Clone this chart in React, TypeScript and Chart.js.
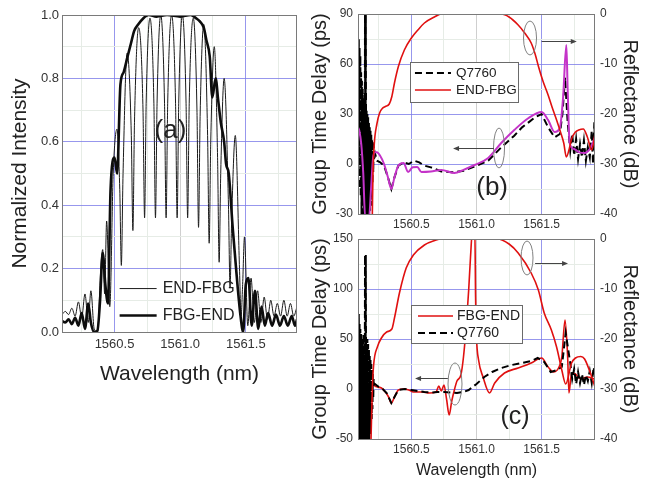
import React, { useEffect, useRef } from "react";
import { Chart, registerables } from "chart.js";

Chart.register(...registerables);

const FONT = "Arial, 'Liberation Sans', Helvetica, sans-serif";
const TICK_COLOR = "#333333";
const FRAME = "#7a7a7a";
const BLUE_GRID = "rgba(125,125,232,0.8)";
const GRAY_GRID = "#cfcfcf";
const MINOR_GRID = "#e6ece6";

// ---------- tick values ----------
const X_TICKS = [1560.25, 1560.5, 1560.75, 1561.0, 1561.25, 1561.5, 1561.75];
const X_BLUE = [1560.5, 1561.5];
const A_Y_TICKS = [0, 0.1, 0.2, 0.3, 0.4, 0.5, 0.6, 0.7, 0.8, 0.9, 1.0];
const B_Y_TICKS = [-30, -15, 0, 15, 30, 45, 60, 75, 90];
const C_Y_TICKS = [-50, -25, 0, 25, 50, 75, 100, 125, 150];
const R_TICKS = [-40, -35, -30, -25, -20, -15, -10, -5, 0];

// ---------- panel (a): normalized intensity ----------
const A_END_FBG_X = [1560.10, 1560.125, 1560.15, 1560.175, 1560.20, 1560.225, 1560.25, 1560.275, 1560.30, 1560.32,
  1560.345, 1560.37, 1560.395, 1560.41, 1560.425, 1560.44, 1560.464, 1560.49, 1560.519, 1560.54,
  1560.552, 1560.565, 1560.596, 1560.628, 1560.64, 1560.652, 1560.684, 1560.717, 1560.729, 1560.741,
  1560.77, 1560.80, 1560.812, 1560.824, 1560.852, 1560.881, 1560.893, 1560.905, 1560.935, 1560.965,
  1560.977, 1560.989, 1561.017, 1561.045, 1561.057, 1561.069, 1561.10, 1561.128, 1561.14, 1561.152,
  1561.18, 1561.209, 1561.221, 1561.233, 1561.26, 1561.285, 1561.297, 1561.309, 1561.335, 1561.368,
  1561.38, 1561.392, 1561.42, 1561.452, 1561.464, 1561.476, 1561.49, 1561.515, 1561.54, 1561.565,
  1561.59, 1561.615, 1561.64, 1561.665, 1561.69, 1561.715, 1561.74, 1561.765, 1561.79, 1561.815,
  1561.84, 1561.865, 1561.89];
const A_END_FBG_Y = [0.055, 0.065, 0.055, 0.075, 0.05, 0.095, 0.045, 0.12, 0.03, 0.13,
  0.01, 0.0, 0.2, 0.26, 0.12, 0.35, 0.08, 0.5, 0.64, 0.45,
  0.21, 0.5, 0.88, 0.62, 0.32, 0.66, 0.96, 0.7, 0.36, 0.72,
  0.99, 0.72, 0.36, 0.72, 1.0, 0.72, 0.36, 0.72, 1.0, 0.72,
  0.36, 0.72, 1.0, 0.72, 0.36, 0.72, 0.99, 0.7, 0.33, 0.68,
  0.97, 0.62, 0.28, 0.6, 0.9, 0.55, 0.22, 0.5, 0.8, 0.4,
  0.14, 0.35, 0.62, 0.2, 0.05, 0.15, 0.3, 0.02, 0.17, 0.03,
  0.13, 0.03, 0.11, 0.04, 0.1, 0.05, 0.09, 0.05, 0.1, 0.05,
  0.09, 0.05, 0.08];

const A_FBG_END_X = [1560.10, 1560.125, 1560.15, 1560.175, 1560.20, 1560.225, 1560.25, 1560.275, 1560.30, 1560.32,
  1560.345, 1560.37, 1560.39, 1560.41, 1560.43, 1560.45, 1560.47, 1560.50, 1560.52, 1560.545,
  1560.57, 1560.60, 1560.625, 1560.65, 1560.68, 1560.72, 1560.76, 1560.82, 1560.90, 1561.00,
  1561.08, 1561.12, 1561.15, 1561.18, 1561.20, 1561.225, 1561.245, 1561.27, 1561.29, 1561.31,
  1561.335, 1561.35, 1561.37, 1561.40, 1561.43, 1561.46, 1561.48, 1561.50, 1561.52, 1561.545,
  1561.57, 1561.595, 1561.62, 1561.645, 1561.67, 1561.70, 1561.73, 1561.76, 1561.79, 1561.82,
  1561.85, 1561.875, 1561.89];
const A_FBG_END_Y = [0.035, 0.03, 0.04, 0.025, 0.045, 0.02, 0.06, 0.01, 0.09, 0.03,
  0.0, 0.005, 0.1, 0.25, 0.15, 0.09, 0.45, 0.55, 0.5, 0.78,
  0.82, 0.87, 0.91, 0.95, 0.97, 0.99, 1.0, 0.995, 1.0, 0.995,
  1.0, 0.99, 0.98, 0.96, 0.92, 0.87, 0.74, 0.80, 0.73, 0.66,
  0.6, 0.53, 0.5, 0.33, 0.18, 0.05, 0.0, 0.15, 0.17, 0.02,
  0.13, 0.01, 0.08, 0.02, 0.06, 0.02, 0.055, 0.02, 0.05, 0.02,
  0.05, 0.02, 0.04];

// ---------- panel (b): END-FBG ----------
const B_REFL_X = [1560.20, 1560.205, 1560.215, 1560.235, 1560.256, 1560.28, 1560.30, 1560.33, 1560.35, 1560.37,
  1560.40, 1560.446, 1560.50, 1560.55, 1560.60, 1560.677, 1560.73, 1561.19, 1561.25, 1561.32,
  1561.37, 1561.42, 1561.45, 1561.477, 1561.51, 1561.55, 1561.58, 1561.615, 1561.645, 1561.67,
  1561.69, 1561.71, 1561.73, 1561.76, 1561.785, 1561.82, 1561.85, 1561.885, 1561.91];
const B_REFL_Y = [-40, -32, -26, -22, -19.8, -18.8, -18.5, -18.0, -16.5, -13.8,
  -10.5, -7.2, -4.8, -3.2, -1.8, -0.6, 0, 0, -0.6, -2.2,
  -3.8, -5.8, -8, -10.6, -13.4, -16.2, -18.6, -21.2, -23.6, -25.8,
  -28.6, -27.2, -25, -23.6, -23.2, -23, -24.5, -27.2, -24];

const B_GD_X = [1560.09, 1560.10, 1560.115, 1560.13, 1560.145, 1560.175, 1560.19, 1560.205, 1560.217, 1560.235,
  1560.26, 1560.29, 1560.32, 1560.346, 1560.37, 1560.40, 1560.44, 1560.475, 1560.51, 1560.545,
  1560.577, 1560.65, 1560.73, 1560.83, 1560.90, 1560.985, 1561.09, 1561.19, 1561.29, 1561.40,
  1561.50, 1561.55, 1561.60, 1561.64, 1561.665, 1561.69, 1561.70, 1561.715, 1561.75, 1561.79,
  1561.83, 1561.87, 1561.91];
const B_GD_Y = [22, 20, 12, -5, -32, -32, -15, 3, 7, 7,
  5, 0, -8, -15, -8, -1, 0.6, -4.8, -2, -1.8,
  -4.8, -4.5, -3.6, -5.4, -3.5, -0.6, 3.6, 12.6, 20.4, 27.6,
  31.2, 26.4, 19.2, 21.6, 40, 71.4, 45, 12.6, 9, 7,
  6.6, 9, 16];

const B_Q_X = [1560.090, 1560.093, 1560.096, 1560.099, 1560.102, 1560.105, 1560.108, 1560.111, 1560.114, 1560.117,
  1560.120, 1560.123, 1560.126, 1560.129, 1560.132, 1560.135, 1560.138, 1560.141, 1560.144, 1560.147,
  1560.150, 1560.153, 1560.156, 1560.159, 1560.162, 1560.165, 1560.168, 1560.171, 1560.174, 1560.177,
  1560.180, 1560.183, 1560.186, 1560.189, 1560.192, 1560.195, 1560.198, 1560.201, 1560.204, 1560.207,
  1560.210, 1560.213, 1560.222, 1560.235, 1560.26, 1560.29, 1560.32, 1560.346, 1560.37, 1560.40,
  1560.44, 1560.48, 1560.52, 1560.56, 1560.60, 1560.65, 1560.73, 1560.83, 1560.90, 1560.985,
  1561.09, 1561.19, 1561.29, 1561.35, 1561.40, 1561.45, 1561.50, 1561.55, 1561.60, 1561.64,
  1561.66, 1561.68, 1561.70, 1561.72, 1561.735, 1561.75, 1561.765, 1561.78, 1561.795, 1561.81,
  1561.825, 1561.84, 1561.855, 1561.87, 1561.885, 1561.895, 1561.905, 1561.91];
const B_Q_Y = [60, -5, 75, 0, 70, -15, 65, -20, 55, -30,
  50, -25, 45, -32, 40, -32, 35, -30, 95, -32,
  95, -32, 32, -32, 30, -32, 28, -30, 25, -32,
  22, -28, 20, -25, 18, -20, 15, -12, 14, -5,
  12, 2, 6, 2, 1, -1, -8, -15, -8, -1,
  1, 0, 2, 1, -1, -2, -4.5, -5, -4, -1.5,
  2, 10, 17, 22, 25, 28, 30, 22, 16, 18,
  30, 52, 25, 8, 18, 5, 15, 3, 12, 4,
  14, 2, 10, 4, 20, 0, 25, 10];

// ---------- panel (c): FBG-END ----------
const C_REFL_X = [1560.19, 1560.20, 1560.21, 1560.24, 1560.27, 1560.31, 1560.35, 1560.37, 1560.41, 1560.46,
  1560.515, 1560.60, 1560.68, 1560.73, 1561.16, 1561.25, 1561.32, 1561.42, 1561.475, 1561.52,
  1561.575, 1561.615, 1561.655, 1561.685, 1561.73, 1561.76, 1561.80, 1561.83, 1561.885, 1561.91];
const C_REFL_Y = [-40, -30, -25.2, -21.5, -19.8, -18.6, -18, -15.8, -10.6, -5.8,
  -3.2, -1.2, -0.3, 0, 0, -1, -2.8, -6.8, -10.2, -14.8,
  -18.2, -21.6, -26.2, -29, -24.8, -23.8, -23.5, -24, -27.6, -29.6];

const C_GD_X = [1560.20, 1560.215, 1560.24, 1560.27, 1560.30, 1560.325, 1560.346, 1560.37, 1560.40, 1560.44,
  1560.48, 1560.515, 1560.58, 1560.64, 1560.69, 1560.71, 1560.73, 1560.75, 1560.77, 1560.79,
  1560.81, 1560.83, 1560.85, 1560.88, 1560.90, 1560.923, 1560.94, 1560.954, 1560.97, 1560.987,
  1560.993, 1561.00, 1561.016, 1561.05, 1561.10, 1561.14, 1561.215, 1561.32, 1561.42, 1561.50,
  1561.55, 1561.59, 1561.63, 1561.655, 1561.68, 1561.70, 1561.71, 1561.73, 1561.76, 1561.80,
  1561.85, 1561.91];
const C_GD_Y = [10, 4, 2, 1, -3, -8, -14, -8, -1, 0,
  -1, -3, -3, -4, -3, 3, -2, 4, -10, -26,
  -12, -1, 8, 14, 32, 66, 99, 132, 160, 160,
  92, 52, 29, 12, -4, 6, 16, 21, 26, 31,
  22, 17, 21, 32, 69, 32, -4, 16, 15, 10,
  12, 10];

const C_Q_X = [1560.090, 1560.093, 1560.096, 1560.099, 1560.102, 1560.105, 1560.108, 1560.111, 1560.114, 1560.117,
  1560.120, 1560.123, 1560.126, 1560.129, 1560.132, 1560.135, 1560.138, 1560.141, 1560.144, 1560.147,
  1560.150, 1560.153, 1560.156, 1560.159, 1560.162, 1560.165, 1560.168, 1560.171, 1560.174, 1560.177,
  1560.180, 1560.183, 1560.186, 1560.189, 1560.192, 1560.195, 1560.198, 1560.201, 1560.204, 1560.207,
  1560.210, 1560.213, 1560.22, 1560.25, 1560.28, 1560.31, 1560.346, 1560.37, 1560.40, 1560.45,
  1560.50, 1560.55, 1560.60, 1560.65, 1560.70, 1560.75, 1560.80, 1560.85, 1560.90, 1560.94,
  1561.00, 1561.06, 1561.12, 1561.19, 1561.27, 1561.35, 1561.42, 1561.47, 1561.52, 1561.57,
  1561.62, 1561.655, 1561.685, 1561.72, 1561.735, 1561.75, 1561.765, 1561.78, 1561.795, 1561.81,
  1561.825, 1561.84, 1561.855, 1561.87, 1561.885, 1561.90, 1561.91];
const C_Q_Y = [50, -40, 75, -50, 65, -52, 60, -48, 55, -52,
  50, -50, 45, -52, 55, -50, 40, -52, 134, -52,
  134, -52, 45, -52, 50, -52, 45, -48, 40, -50,
  35, -45, 30, -40, 25, -30, 20, -20, 15, -10,
  10, 5, 5, 2, 0, -4, -14, -8, -1, 0,
  -1, -2, -3, -3.5, -3, -3, -3.5, -4, -3, -1,
  5, 12, 17, 21, 24, 26, 28, 31, 27, 17,
  19, 22, 56, 26, 10, 20, 5, 17, 6, 15,
  4, 14, 8, 18, 6, 22, 14];

// ---------- helpers ----------
const xy = (xs: number[], ys: number[]) =>
  xs.slice(0, Math.min(xs.length, ys.length)).map((x, i) => ({ x, y: ys[i] }));
const near = (a: number, b: number) => Math.abs(a - b) < 1e-6;
const isMult = (v: number, m: number) => Math.abs(v / m - Math.round(v / m)) < 1e-6;

function xScale(min: number, max: number, height: number, fontSize: number, pad: number, title?: any) {
  return {
    type: "linear",
    min,
    max,
    afterBuildTicks: (s: any) => { s.ticks = X_TICKS.map((v) => ({ value: v })); },
    afterFit: (s: any) => { s.height = height; },
    ticks: {
      autoSkip: false,
      maxRotation: 0,
      padding: pad,
      color: TICK_COLOR,
      font: { family: FONT, size: fontSize },
      callback: (v: any) => (isMult(Number(v), 0.5) ? Number(v).toFixed(1) : ""),
    },
    grid: {
      drawTicks: false,
      lineWidth: 1,
      color: (ctx: any) => {
        const v = ctx.tick ? ctx.tick.value : 0;
        if (X_BLUE.some((b) => near(b, v))) return BLUE_GRID;
        if (isMult(v, 0.5)) return GRAY_GRID;
        return MINOR_GRID;
      },
    },
    border: { display: false },
    title: title || { display: false },
  };
}

function yScale(opts: any) {
  const { min, max, ticksArr, majorStep, width, fontSize, pad, title, position, grid, fmt } = opts;
  return {
    type: "linear",
    position,
    min,
    max,
    afterBuildTicks: (s: any) => { s.ticks = ticksArr.map((v: number) => ({ value: v })); },
    afterFit: (s: any) => { s.width = width; },
    ticks: {
      autoSkip: false,
      padding: pad,
      color: TICK_COLOR,
      font: { family: FONT, size: fontSize },
      callback: (v: any) => (isMult(Number(v), majorStep) ? fmt(Number(v)) : ""),
    },
    grid: grid
      ? {
          drawTicks: false,
          lineWidth: 1,
          color: (ctx: any) => {
            const v = ctx.tick ? ctx.tick.value : 0;
            return isMult(v, majorStep) ? BLUE_GRID : MINOR_GRID;
          },
        }
      : { drawOnChartArea: false, drawTicks: false },
    border: { display: false },
    title,
  };
}

function P(chart: any, v: number, axis: string) {
  return chart.scales[axis].getPixelForValue(v);
}

function drawFrame(chart: any) {
  const { ctx, chartArea: a } = chart;
  ctx.save();
  ctx.strokeStyle = FRAME;
  ctx.lineWidth = 1;
  ctx.strokeRect(Math.round(a.left) + 0.5, Math.round(a.top) + 0.5, Math.round(a.right - a.left) - 1, Math.round(a.bottom - a.top));
  ctx.restore();
}

function drawLabel(chart: any, text: string, x: number, y: number, axis: string, size: number) {
  const ctx = chart.ctx;
  ctx.save();
  ctx.fillStyle = "#222";
  ctx.font = `${size}px ${FONT}`;
  ctx.textAlign = "center";
  ctx.textBaseline = "middle";
  ctx.fillText(text, P(chart, x, "x"), P(chart, y, axis));
  ctx.restore();
}

function drawEllipse(chart: any, x: number, y: number, axis: string, rx: number, ry: number) {
  const ctx = chart.ctx;
  ctx.save();
  ctx.strokeStyle = "#808080";
  ctx.lineWidth = 1;
  ctx.beginPath();
  ctx.ellipse(P(chart, x, "x"), P(chart, y, axis), rx, ry, 0, 0, Math.PI * 2);
  ctx.stroke();
  ctx.restore();
}

function drawArrow(chart: any, x1: number, x2: number, y: number, axis: string) {
  const ctx = chart.ctx;
  const a = P(chart, x1, "x");
  const b = P(chart, x2, "x");
  const yy = Math.round(P(chart, y, axis)) + 0.5;
  const dir = b > a ? 1 : -1;
  ctx.save();
  ctx.strokeStyle = "#444";
  ctx.fillStyle = "#444";
  ctx.lineWidth = 1;
  ctx.beginPath();
  ctx.moveTo(a, yy);
  ctx.lineTo(b - dir * 4, yy);
  ctx.stroke();
  ctx.beginPath();
  ctx.moveTo(b, yy);
  ctx.lineTo(b - dir * 6, yy - 2.5);
  ctx.lineTo(b - dir * 6, yy + 2.5);
  ctx.closePath();
  ctx.fill();
  ctx.restore();
}

function drawLegend(chart: any, o: any) {
  const ctx = chart.ctx;
  const left = P(chart, o.x, "x");
  const top = P(chart, o.y, o.axis);
  ctx.save();
  if (o.box) {
    ctx.fillStyle = "#ffffff";
    ctx.fillRect(left, top, o.w, o.h);
    ctx.strokeStyle = "#6a6a6a";
    ctx.lineWidth = 1;
    ctx.strokeRect(Math.round(left) + 0.5, Math.round(top) + 0.5, o.w, o.h);
  }
  o.items.forEach((idx: number, i: number) => {
    const ds = chart.data.datasets[idx];
    const yy = top + o.row0 + i * o.gap;
    ctx.strokeStyle = ds.borderColor;
    ctx.lineWidth = ds.borderWidth;
    ctx.setLineDash(ds.borderDash || []);
    ctx.beginPath();
    ctx.moveTo(left + o.l0, yy);
    ctx.lineTo(left + o.l1, yy);
    ctx.stroke();
    ctx.setLineDash([]);
    ctx.fillStyle = "#222";
    ctx.font = `${o.font}px ${FONT}`;
    ctx.textAlign = "left";
    ctx.textBaseline = "middle";
    ctx.fillText(ds.label, left + o.tx, yy + 0.5);
  });
  ctx.restore();
}

const lineDs = (label: string, data: any[], color: string, width: number, extra: any = {}) => ({
  label,
  data,
  borderColor: color,
  borderWidth: width,
  pointRadius: 0,
  fill: false,
  cubicInterpolationMode: "monotone",
  ...extra,
});

// ---------- chart configs ----------
function configA() {
  return {
    type: "line",
    data: {
      datasets: [
        lineDs("END-FBG", xy(A_END_FBG_X, A_END_FBG_Y), "#1a1a1a", 1, { order: 1 }),
        lineDs("FBG-END", xy(A_FBG_END_X, A_FBG_END_Y), "#0d0d0d", 2.6, { order: 0 }),
      ],
    },
    options: {
      animation: false,
      responsive: false,
      devicePixelRatio: 1,
      layout: { padding: { top: 15, right: 13, left: 0, bottom: 0 } },
      plugins: { legend: { display: false }, tooltip: { enabled: false } },
      scales: {
        x: xScale(1560.1, 1561.89, 58, 13, 5, {
          display: true,
          text: "Wavelength (nm)",
          color: "#222",
          font: { family: FONT, size: 21 },
          padding: { top: 0, bottom: 3 },
        }),
        y: yScale({
          min: 0, max: 1, ticksArr: A_Y_TICKS, majorStep: 0.2, width: 62, fontSize: 13, pad: 3,
          position: "left", grid: true, fmt: (v: number) => v.toFixed(1),
          title: { display: true, text: "Normalized Intensity", color: "#222", font: { family: FONT, size: 21 }, padding: { top: 8, bottom: 0 } },
        }),
      },
    },
    plugins: [
      {
        id: "decoA",
        afterDatasetsDraw(chart: any) {
          drawFrame(chart);
          drawLabel(chart, "(a)", 1560.926, 0.634, "y", 26);
          drawLegend(chart, { x: 1560.539, y: 0.178, axis: "y", box: false, w: 0, h: 0, items: [0, 1], row0: 13, gap: 27, l0: 0, l1: 37, tx: 43, font: 16 });
        },
      },
    ],
  };
}

const rightAxisTitle = {
  display: true,
  text: "Reflectance (dB)",
  color: "#222",
  font: { family: FONT, size: 20 },
  padding: { top: 4, bottom: 0 },
};
const leftAxisTitle = {
  display: true,
  text: "Group Time Delay (ps)",
  color: "#222",
  font: { family: FONT, size: 20 },
  padding: { top: 8, bottom: 0 },
};

function configB() {
  return {
    type: "line",
    data: {
      datasets: [
        lineDs("Q7760", xy(B_Q_X, B_Q_Y), "#000000", 2, { borderDash: [7, 4], yAxisID: "y", order: 2, cubicInterpolationMode: "default", tension: 0 }),
        lineDs("END-FBG", xy(B_REFL_X, B_REFL_Y), "#e01010", 1.6, { yAxisID: "y1", order: 0 }),
        lineDs("END-FBG delay", xy(B_GD_X, B_GD_Y), "#c433c8", 2, { yAxisID: "y", order: 1 }),
      ],
    },
    options: {
      animation: false,
      responsive: false,
      devicePixelRatio: 1,
      layout: { padding: { top: 14, right: 0, left: 0, bottom: 0 } },
      plugins: { legend: { display: false }, tooltip: { enabled: false } },
      scales: {
        x: xScale(1560.09, 1561.91, 18, 12, 3),
        y: yScale({
          min: -30, max: 90, ticksArr: B_Y_TICKS, majorStep: 30, width: 58, fontSize: 12, pad: 5,
          position: "left", grid: true, fmt: (v: number) => String(v), title: leftAxisTitle,
        }),
        y1: yScale({
          min: -40, max: 0, ticksArr: R_TICKS, majorStep: 10, width: 51, fontSize: 12, pad: 5,
          position: "right", grid: false, fmt: (v: number) => String(v), title: rightAxisTitle,
        }),
      },
    },
    plugins: [
      {
        id: "decoB",
        afterDatasetsDraw(chart: any) {
          drawFrame(chart);
          drawEllipse(chart, 1561.411, -4.8, "y1", 6.5, 17);
          drawArrow(chart, 1561.50, 1561.77, -5.4, "y1");
          drawEllipse(chart, 1561.173, 9.6, "y", 5.5, 20);
          drawArrow(chart, 1561.134, 1560.82, 9.6, "y");
          drawLabel(chart, "(b)", 1561.12, -14.4, "y", 26);
          drawLegend(chart, { x: 1560.489, y: 61.2, axis: "y", box: true, w: 108, h: 40, items: [0, 1], row0: 11, gap: 17, l0: 5, l1: 41, tx: 46, font: 13.5 });
        },
      },
    ],
  };
}

function configC() {
  return {
    type: "line",
    data: {
      datasets: [
        lineDs("FBG-END", xy(C_REFL_X, C_REFL_Y), "#e01010", 1.6, { yAxisID: "y1", order: 0 }),
        lineDs("Q7760", xy(C_Q_X, C_Q_Y), "#000000", 2, { borderDash: [7, 4], yAxisID: "y", order: 1, cubicInterpolationMode: "default", tension: 0 }),
        lineDs("FBG-END delay", xy(C_GD_X, C_GD_Y), "#e01010", 1.6, { yAxisID: "y", order: 2 }),
      ],
    },
    options: {
      animation: false,
      responsive: false,
      devicePixelRatio: 1,
      layout: { padding: { top: 14, right: 0, left: 0, bottom: 0 } },
      plugins: { legend: { display: false }, tooltip: { enabled: false } },
      scales: {
        x: xScale(1560.09, 1561.91, 41, 12, 3, {
          display: true,
          text: "Wavelength (nm)",
          color: "#222",
          font: { family: FONT, size: 16 },
          padding: { top: 0, bottom: 0 },
        }),
        y: yScale({
          min: -50, max: 150, ticksArr: C_Y_TICKS, majorStep: 50, width: 58, fontSize: 12, pad: 5,
          position: "left", grid: true, fmt: (v: number) => String(v), title: leftAxisTitle,
        }),
        y1: yScale({
          min: -40, max: 0, ticksArr: R_TICKS, majorStep: 10, width: 51, fontSize: 12, pad: 5,
          position: "right", grid: false, fmt: (v: number) => String(v), title: rightAxisTitle,
        }),
      },
    },
    plugins: [
      {
        id: "decoC",
        afterDatasetsDraw(chart: any) {
          drawFrame(chart);
          drawEllipse(chart, 1561.388, -3.8, "y1", 6, 17);
          drawArrow(chart, 1561.45, 1561.703, -4.8, "y1");
          drawEllipse(chart, 1560.835, 5, "y", 7, 21);
          drawArrow(chart, 1560.78, 1560.528, 11, "y");
          drawLabel(chart, "(c)", 1561.296, -28, "y", 25);
          drawLegend(chart, { x: 1560.497, y: 84, axis: "y", box: true, w: 111, h: 38, items: [0, 1], row0: 11, gap: 17, l0: 7, l1: 42, tx: 46, font: 14 });
        },
      },
    ],
  };
}

function ChartCanvas(props: { left: number; top: number; width: number; height: number; build: () => any }) {
  const { left, top, width, height, build } = props;
  const ref = useRef<HTMLCanvasElement>(null);
  useEffect(() => {
    const chart = new Chart(ref.current as HTMLCanvasElement, build());
    return () => chart.destroy();
  }, []);
  return (
    <canvas
      ref={ref}
      width={width}
      height={height}
      style={{ position: "absolute", left, top, width, height }}
    />
  );
}

export default function App() {
  return (
    <div style={{ position: "absolute", left: 0, top: 0, width: 646, height: 480, background: "#ffffff", overflow: "hidden" }}>
      <ChartCanvas left={0} top={0} width={310} height={390} build={configA} />
      <ChartCanvas left={300} top={0} width={346} height={232} build={configB} />
      <ChartCanvas left={300} top={225} width={346} height={255} build={configC} />
    </div>
  );
}
